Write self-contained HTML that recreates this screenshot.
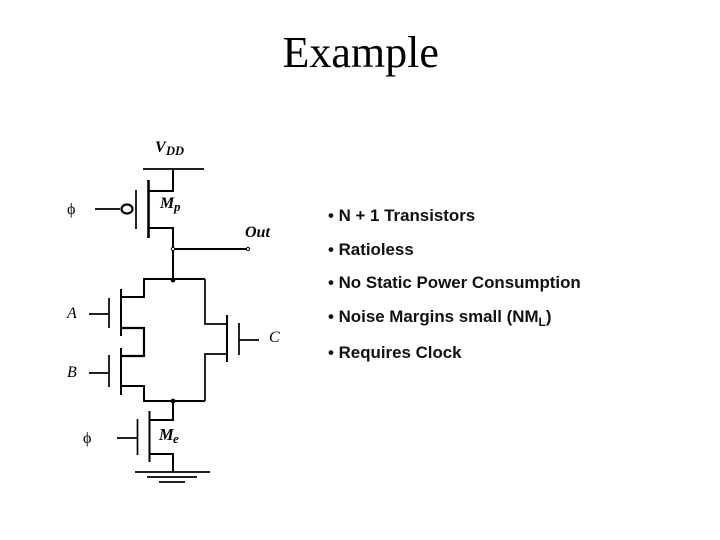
<!DOCTYPE html>
<html>
<head>
<meta charset="utf-8">
<style>
html,body{margin:0;padding:0;background:#fff;width:720px;height:540px;overflow:hidden}
svg{display:block}
text{fill:#000}
.s{font-family:"Liberation Serif",serif}
.b{font-family:"Liberation Sans",sans-serif;font-weight:bold;font-size:16.9px;fill:#111}
.i{font-family:"Liberation Serif",serif;font-style:italic;font-weight:bold}
.n{font-family:"Liberation Serif",serif;font-style:italic;font-size:16px}
</style>
</head>
<body>
<svg width="720" height="540" viewBox="0 0 720 540" xmlns="http://www.w3.org/2000/svg">
<text class="s" x="282.5" y="67" font-size="44">Example</text>

<g fill="none" stroke="#000" stroke-width="1.7">
<!-- VDD and PMOS -->
<path d="M143 169H204"/>
<path d="M173 169V191H148M148 228H173V279" stroke-width="2"/>
<path d="M148.5 180V238" stroke-width="2.6"/>
<path d="M136 190V229"/>
<ellipse cx="127" cy="209" rx="5.5" ry="4.5" stroke-width="2.2"/>
<path d="M95 209H120"/>
<path d="M173 249H248" stroke-width="2"/>
<!-- Top node -->
<path d="M205 279H144V297H121" stroke-width="2"/>
<!-- A -->
<path d="M121 289V336" stroke-width="2"/>
<path d="M109 298V328"/>
<path d="M89 314H109"/>
<path d="M121 328H144V356H121" stroke-width="2.2"/>
<!-- B -->
<path d="M121 348V395" stroke-width="2"/>
<path d="M109 355V387"/>
<path d="M89 373H109"/>
<path d="M121 386H144V401H205" stroke-width="2"/>
<!-- C -->
<path d="M205 279V324H227M227 354H205V401" stroke-width="1.7"/>
<path d="M227 315V362" stroke-width="2"/>
<path d="M239 323V355"/>
<path d="M239 340H259"/>
<!-- Me -->
<path d="M173 401V420H149M149 454H173V472" stroke-width="2"/>
<path d="M149.5 411V462" stroke-width="2"/>
<path d="M137.5 419V455"/>
<path d="M117 438H137"/>
<path d="M135 472H210"/>
<path d="M147 477H197"/>
<path d="M159 482H185"/>
</g>
<circle cx="173" cy="249" r="1.6" fill="#fff" stroke="#000"/>
<circle cx="248" cy="249" r="1.6" fill="#fff" stroke="#000"/>
<circle cx="173" cy="280" r="2.4" fill="#000"/>
<circle cx="173" cy="401" r="2.4" fill="#000"/>

<!-- Circuit labels -->
<text class="i" x="155" y="152" font-size="16">V</text>
<text class="i" x="166" y="155" font-size="12.5">DD</text>
<text class="i" x="160" y="208" font-size="16">M</text>
<text class="i" x="174" y="211" font-size="13">p</text>
<text class="i" x="245" y="237" font-size="16">Out</text>
<text class="i" x="159" y="440" font-size="16.5">M</text>
<text class="i" x="173" y="443" font-size="13">e</text>
<text class="n" x="67" y="318">A</text>
<text class="n" x="67" y="377">B</text>
<text class="n" x="269" y="342">C</text>
<text class="s" x="67" y="214" font-size="16">&#981;</text>
<text class="s" x="83" y="443" font-size="16">&#981;</text>

<!-- Bullets -->
<text class="b" x="328" y="221">• N + 1 Transistors</text>
<text class="b" x="328" y="255">• Ratioless</text>
<text class="b" x="328" y="288">• No Static Power Consumption</text>
<text class="b" x="328" y="322">• Noise Margins small (NM<tspan font-size="12" dy="4">L</tspan><tspan dy="-4">)</tspan></text>
<text class="b" x="328" y="358">• Requires Clock</text>
</svg>
</body>
</html>
